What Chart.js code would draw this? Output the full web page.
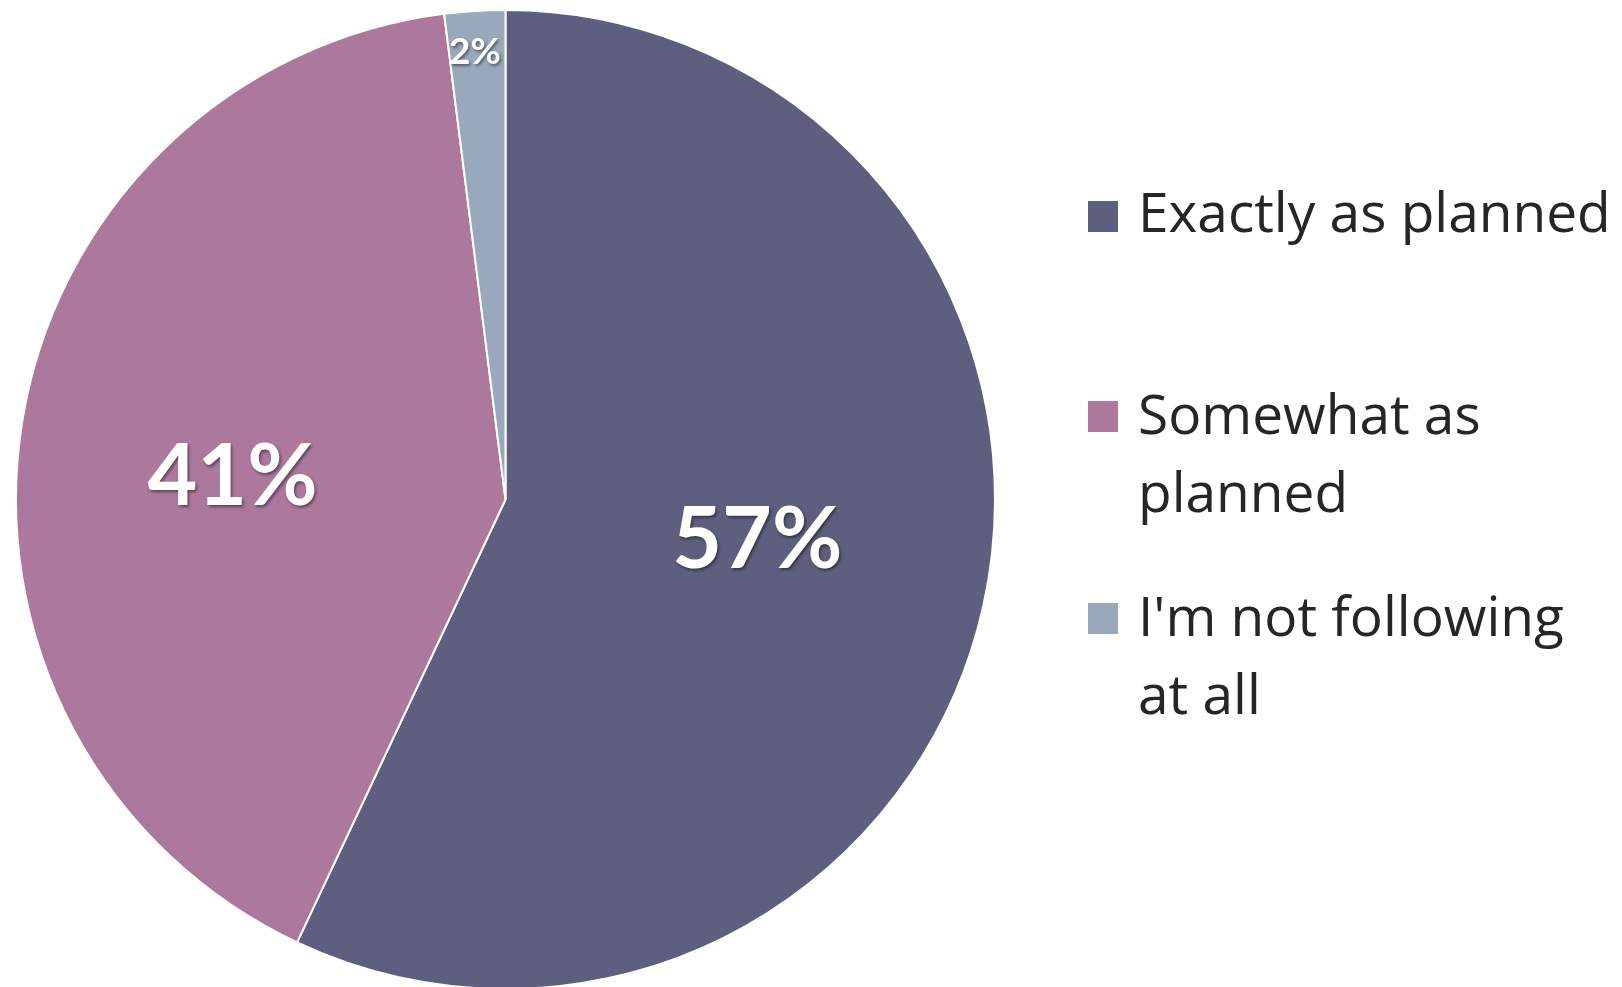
<!DOCTYPE html>
<html>
<head>
<meta charset="utf-8">
<script src="https://cdn.jsdelivr.net/npm/chart.js@4"></script>
<style>
  html, body { margin: 0; padding: 0; background: #fff; overflow: hidden; }
  body { width: 1622px; height: 987px; position: relative; }
  #pieBox { position: absolute; left: 15px; top: 9px; width: 981px; height: 981px; }
  #legend { position: absolute; left: 1088px; top: 0; font-family: "Open Sans", sans-serif; color: #262626; }
  .item { position: absolute; left: 0; width: 534px; }
  .sw { position: absolute; left: 0; width: 30px; height: 31px; }
  .txt { position: absolute; left: 50px; width: 478px; font-size: 55px; line-height: 78px; }
</style>
</head>
<body>
<div id="pieBox"><canvas id="pieChart"></canvas></div>
<div id="legend"></div>
<script>
// survey answers, in percent
const categories = ['Exactly as planned', 'Somewhat as planned', "I'm not following at all"];
const values = [57, 41, 2];
const colors = ['#5E5F7E', '#AC789C', '#97A9BA'];
// where each percent label sits: share of the slice's sweep, share of radius
const labelAt = [0.48, 0.475, 0.46];
const labelRadius = [0.52, 0.56, 0.92];
const labelSize = [86, 86, 37];
const legendTops = [172, 374, 576];

const pctLabels = {
  id: 'pctLabels',
  afterDatasetsDraw(chart) {
    const ctx = chart.ctx;
    const arcs = chart.getDatasetMeta(0).data;
    arcs.forEach((arc, i) => {
      const p = arc.getProps(['x', 'y', 'startAngle', 'endAngle', 'outerRadius'], true);
      const a = p.startAngle + (p.endAngle - p.startAngle) * labelAt[i];
      const r = p.outerRadius * labelRadius[i];
      const x = p.x + Math.cos(a) * r;
      const y = p.y + Math.sin(a) * r;
      ctx.save();
      ctx.font = 'bold ' + labelSize[i] + 'px Lato, sans-serif';
      ctx.fillStyle = '#fff';
      ctx.textAlign = 'center';
      ctx.textBaseline = 'alphabetic';
      ctx.shadowColor = 'rgba(0,0,0,0.45)';
      ctx.shadowBlur = 3;
      ctx.shadowOffsetX = 1.5;
      ctx.shadowOffsetY = 2;
      ctx.fillText(values[i] + '%', x, y + labelSize[i] * 0.36);
      ctx.restore();
    });
  }
};

const pieChart = new Chart(document.getElementById('pieChart'), {
  type: 'pie',
  data: {
    labels: categories,
    datasets: [{
      data: values,
      backgroundColor: colors,
      borderColor: '#fff',
      borderWidth: 2
    }]
  },
  options: {
    responsive: true,
    maintainAspectRatio: false,
    animation: false,
    layout: { padding: 0 },
    plugins: {
      legend: { display: false },
      tooltip: { enabled: false }
    }
  },
  plugins: [pctLabels]
});

// legend on the right
const legend = document.getElementById('legend');
categories.forEach((c, i) => {
  const item = document.createElement('div');
  item.className = 'item';
  item.style.top = legendTops[i] + 'px';
  item.innerHTML = '<div class="sw" style="top:' + (i === 0 ? 29 : 27) + 'px;background:' + colors[i] + '"></div>' +
    '<div class="txt">' + c + '</div>';
  legend.appendChild(item);
});
</script>
</body>
</html>
